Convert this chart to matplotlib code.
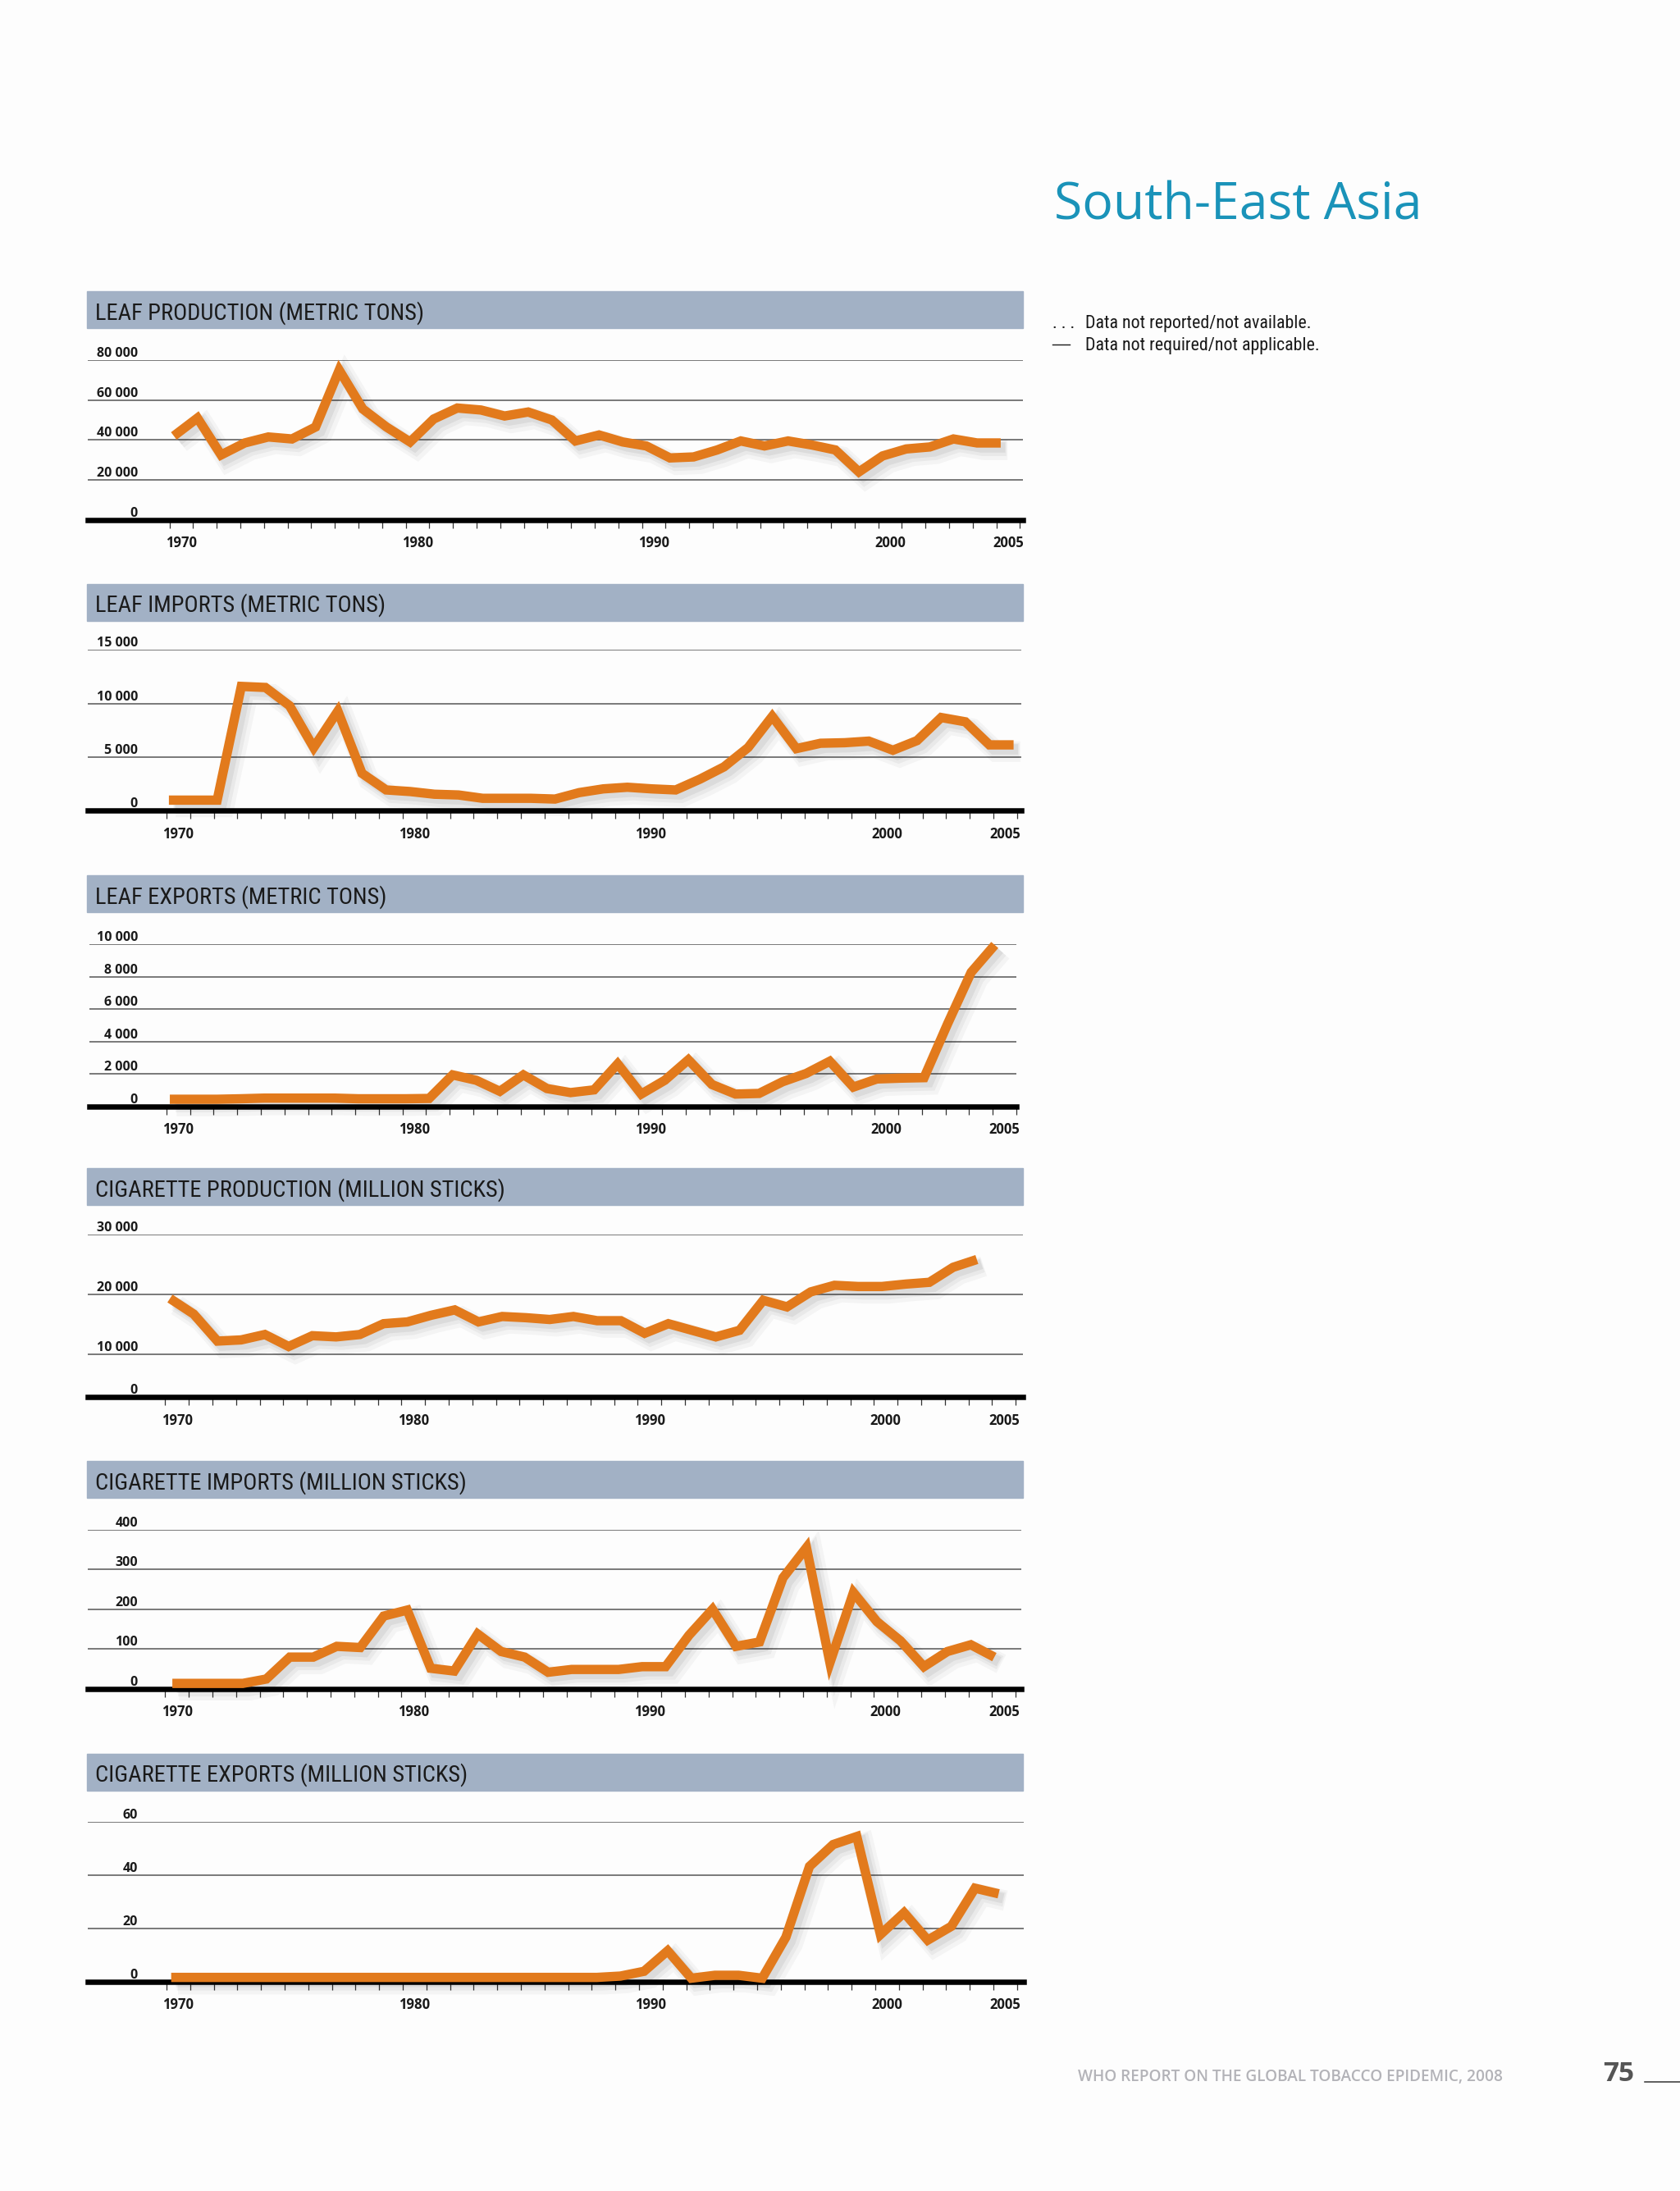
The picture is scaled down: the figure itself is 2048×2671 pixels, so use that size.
import matplotlib
matplotlib.use('Agg')
import matplotlib.pyplot as plt
import matplotlib.patheffects as pe
from matplotlib import font_manager
from matplotlib.patches import Rectangle
from matplotlib.lines import Line2D

# page size in pixels (dpi 100)
W, H = 2048, 2671

installed = {f.name for f in font_manager.fontManager.ttflist}


def pick(*names):
    for n in names:
        if n in installed:
            return n
    return 'DejaVu Sans'


NARROW = pick('Liberation Sans Narrow', 'Roboto Condensed', 'DejaVu Sans')
SANS = pick('Open Sans', 'Noto Sans', 'DejaVu Sans')

# ---- data ----
years = list(range(1970, 2006))
years_to_2004 = list(range(1970, 2005))

leaf_production = [42000, 51000, 32500, 38500, 41500, 40500, 46500, 75000, 55500,
                   46500, 39000, 50500, 56000, 55000, 52000, 54000, 50000, 39500,
                   42500, 39000, 37000, 31000, 31500, 35000, 39500, 37000, 39500,
                   37500, 35000, 24000, 32000, 35500, 36500, 40500, 38500, 38500]

leaf_imports = [1000, 1000, 1000, 11600, 11500, 9800, 5900, 9300, 3500, 1950,
                1800, 1550, 1480, 1170, 1170, 1170, 1100, 1700, 2050, 2200,
                2050, 1950, 2950, 4100, 5900, 8800, 5800, 6300, 6350, 6500,
                5650, 6550, 8700, 8300, 6150, 6150]

leaf_exports = [450, 450, 450, 480, 520, 520, 520, 520, 480, 480, 480, 500,
                1950, 1620, 940, 1950, 1110, 860, 1030, 2630, 770, 1620, 2880,
                1360, 770, 810, 1530, 2040, 2790, 1200, 1700, 1750, 1780, 5100,
                8270, 9950]

cig_production = [19300, 16700, 12200, 12400, 13300, 11300, 13100, 12900, 13300,
                  15100, 15400, 16500, 17400, 15400, 16300, 16100, 15800, 16300,
                  15600, 15600, 13500, 15100, 14000, 12900, 14000, 19000, 17900,
                  20400, 21500, 21300, 21300, 21700, 22000, 24500, 25800]

cig_imports = [14, 14, 14, 14, 25, 80, 80, 107, 104, 183, 198, 52, 45, 138, 94,
               80, 42, 49, 49, 49, 56, 56, 135, 200, 107, 118, 279, 355, 66, 242,
               169, 121, 56, 94, 111, 80]

cig_exports = [1.5, 1.5, 1.5, 1.5, 1.5, 1.5, 1.5, 1.5, 1.5, 1.5, 1.5, 1.5, 1.5,
               1.5, 1.5, 1.5, 1.5, 1.5, 1.5, 2, 3.8, 11.5, 1.2, 2.3, 2.3, 1.2,
               16.6, 43.2, 51.4, 54.4, 17.6, 25.8, 15.5, 20.7, 35, 32.9]

titles = ['LEAF PRODUCTION (METRIC TONS)', 'LEAF IMPORTS (METRIC TONS)',
          'LEAF EXPORTS (METRIC TONS)', 'CIGARETTE PRODUCTION (MILLION STICKS)',
          'CIGARETTE IMPORTS (MILLION STICKS)', 'CIGARETTE EXPORTS (MILLION STICKS)']
series = [(years, leaf_production), (years, leaf_imports), (years, leaf_exports),
          (years_to_2004, cig_production), (years, cig_imports), (years, cig_exports)]
yticks = [[0, 20000, 40000, 60000, 80000], [0, 5000, 10000, 15000],
          [0, 2000, 4000, 6000, 8000, 10000], [2850, 10000, 20000, 30000],
          [0, 100, 200, 300, 400], [0, 20, 40, 60]]
ytick_labels = [['0', '20 000', '40 000', '60 000', '80 000'],
                ['0', '5 000', '10 000', '15 000'],
                ['0', '2 000', '4 000', '6 000', '8 000', '10 000'],
                ['0', '10 000', '20 000', '30 000'],
                ['0', '100', '200', '300', '400'],
                ['0', '20', '40', '60']]
xlabel_years = [1970, 1980, 1990, 2000, 2005]

# ---- layout (pixels) ----
# header top, baseline y, top gridline y, left, right,
# x of the 1970 tick, x of the 1970 data point, data px per year
layout = [(355, 633.7, 439, 106.5, 1246.6, 206.6, 211.9, 28.80),
          (711.7, 988.5, 792.3, 106.5, 1245, 202.9, 205.9, 29.42),
          (1067.3, 1349, 1151, 108.8, 1239, 202.9, 207.1, 28.75),
          (1424, 1703.3, 1504.7, 106.5, 1246.6, 201.4, 207.2, 28.93),
          (1781, 2059, 1864.7, 106.5, 1245, 201.4, 210.1, 28.63),
          (2137.7, 2415.5, 2220.7, 106.5, 1248, 202.9, 208.7, 28.82)]
TICK_PPY = 28.8  # tick spacing in px

ORANGE = '#e27a1c'
HEADER = '#a2b1c5'
GRID = '#555555'

fig = plt.figure(figsize=(W / 100, H / 100), dpi=100, facecolor='#fdfdfd')


def fx(px):
    return px / W


def fy(py):
    return 1 - py / H


shadow = [pe.SimpleLineShadow(offset=(6, -6), shadow_color='#000000', alpha=0.035, linewidth=18),
          pe.SimpleLineShadow(offset=(5, -5), shadow_color='#000000', alpha=0.045, linewidth=13),
          pe.SimpleLineShadow(offset=(4, -4), shadow_color='#000000', alpha=0.06, linewidth=9),
          pe.Normal()]

for i, (htop, base, top, left, right, x0t, x0d, ppy) in enumerate(layout):
    fig.patches.append(Rectangle((fx(106), fy(htop + 45)), (1247 - 106) / W, 45 / H,
                                 transform=fig.transFigure, color=HEADER, zorder=0))
    fig.text(fx(116), fy(htop + 34.3), titles[i], family=NARROW, fontsize=20.5,
             color='#1a1a1a', va='baseline', ha='left')

    ax = fig.add_axes([fx(left), fy(base), (right - left) / W, (base - top) / H])
    ax.patch.set_visible(False)
    xs, ys = series[i]
    ax.plot(xs, ys, color=ORANGE, lw=8.2, solid_joinstyle='miter',
            solid_capstyle='butt', zorder=3, clip_on=False, path_effects=shadow)

    ax.set_xlim(1970 - (x0d - left) / ppy, 1970 + (right - x0d) / ppy)
    ax.set_ylim(yticks[i][0], yticks[i][-1])

    for s in ['left', 'right', 'top']:
        ax.spines[s].set_visible(False)
    ax.spines['bottom'].set_linewidth(4.7)
    ax.spines['bottom'].set_color('black')
    ax.spines['bottom'].set_zorder(2.5)

    ax.set_yticks(yticks[i], ytick_labels[i])
    ax.yaxis.grid(True, color=GRID, lw=1.1)
    ax.set_axisbelow(True)
    ax.tick_params(axis='y', length=0, pad=-(168 - left) * 0.72,
                   labelsize=11.5, labelcolor='#1a1a1a')
    for t in ax.get_yticklabels():
        t.set_va('bottom')
        t.set_fontfamily(SANS)
        t.set_fontweight('bold')

    # tick marks sit on their own grid, offset from the data positions
    def tick_at(k):
        return 1970 + (x0t + k * TICK_PPY - x0d) / ppy

    ax.set_xticks([tick_at(y - 1970 + 0.5) for y in xlabel_years],
                  [str(y) for y in xlabel_years])
    ax.set_xticks([tick_at(k) for k in range(37)], minor=True)
    ax.tick_params(axis='x', which='major', length=0, pad=14, labelsize=12,
                   labelcolor='#1a1a1a')
    ax.tick_params(axis='x', which='minor', length=7, width=0.9, color='#333333',
                   direction='out')
    for t in ax.get_xticklabels():
        t.set_fontfamily(SANS)
        t.set_fontweight('bold')

# ---- right-hand title and notes ----
fig.text(fx(1285), fy(267.3), 'South-East Asia', family=SANS, fontsize=45,
         color='#1a93b9', va='baseline', ha='left')
fig.text(fx(1283), fy(400), '. . .', family=NARROW, fontsize=15.8, color='#1a1a1a',
         va='baseline', ha='left')
fig.text(fx(1322.7), fy(400), 'Data not reported/not available.', family=NARROW,
         fontsize=15.8, color='#1a1a1a', va='baseline', ha='left')
fig.lines.append(Line2D([fx(1283), fx(1304)], [fy(420), fy(420)],
                        transform=fig.transFigure, color='#1a1a1a', lw=1.0))
fig.text(fx(1322.7), fy(426.7), 'Data not required/not applicable.', family=NARROW,
         fontsize=15.8, color='#1a1a1a', va='baseline', ha='left')

# ---- footer ----
fig.text(fx(1314), fy(2537.3), 'WHO REPORT ON THE GLOBAL TOBACCO EPIDEMIC, 2008',
         family=SANS, fontsize=13.7, fontweight='semibold', color='#b3b3b8',
         va='baseline', ha='left')
fig.text(fx(1954), fy(2536.7), '75', family=SANS, fontsize=24, fontweight='bold',
         color='#555555', va='baseline', ha='left')
fig.lines.append(Line2D([fx(2004.5), fx(2048)], [fy(2538.3), fy(2538.3)],
                        transform=fig.transFigure, color='#333333', lw=1.1))

fig.savefig('out.png', dpi=100, facecolor=fig.get_facecolor())
